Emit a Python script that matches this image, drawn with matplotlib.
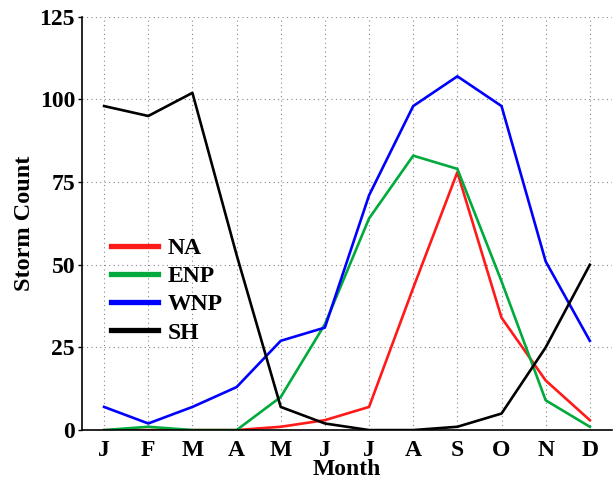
import matplotlib
matplotlib.use('Agg')
import matplotlib.pyplot as plt
from matplotlib.lines import Line2D

months = ['J', 'F', 'M', 'A', 'M', 'J', 'J', 'A', 'S', 'O', 'N', 'D']
na = [0, 0, 0, 0, 1, 3, 7, 43, 78, 34, 15, 3]
enp = [0, 1, 0, 0, 10, 32, 64, 83, 79, 45, 9, 1]
wnp = [7, 2, 7, 13, 27, 31, 71, 98, 107, 98, 51, 27]
sh = [98, 95, 102, 53, 7, 2, 0, 0, 1, 5, 25, 50]

plt.rcParams['font.family'] = ['Liberation Serif', 'DejaVu Serif']
plt.rcParams['font.weight'] = 'bold'
plt.rcParams['font.size'] = 16

fig = plt.figure(figsize=(6.14, 4.8), dpi=100)
ax = fig.add_axes([0.1336, 0.104, 0.863, 0.861])

x = range(len(months))
series = [('NA', na, '#ff1a1a'), ('ENP', enp, '#00aa3c'),
          ('WNP', wnp, '#0000ff'), ('SH', sh, '#000000')]
for name, vals, col in series:
    ax.plot(x, vals, color=col, lw=1.9, label=name)

ax.set_xlim(-0.5, 11.5)
ax.set_ylim(0, 125)
ax.set_yticks([0, 25, 50, 75, 100, 125])
ax.set_xticks(list(x))
ax.set_xticklabels(months)
ax.grid(True, linestyle=(0, (1, 3)), color='#888888', lw=0.8)
ax.spines['top'].set_visible(False)
ax.spines['right'].set_visible(False)
ax.spines['left'].set_linewidth(1.2)
ax.spines['bottom'].set_linewidth(1.2)
ax.tick_params(axis='x', length=0, pad=7, labelsize=17)
ax.tick_params(axis='y', direction='out', length=3, width=1, pad=2, labelsize=17)
ax.set_xlabel('Month', fontweight='bold', fontsize=17, labelpad=-1)
ax.set_ylabel('Storm Count', fontweight='bold', fontsize=17.5, labelpad=3)

handles = [Line2D([], [], color=c, lw=3.8) for _, _, c in series]
ax.legend(handles, [s[0] for s in series], loc='upper left',
          bbox_to_anchor=(0.015, 0.517), frameon=False, fontsize=17,
          handlelength=2.0, handletextpad=0.4, labelspacing=0.28)

fig.savefig('out.png', dpi=100)
